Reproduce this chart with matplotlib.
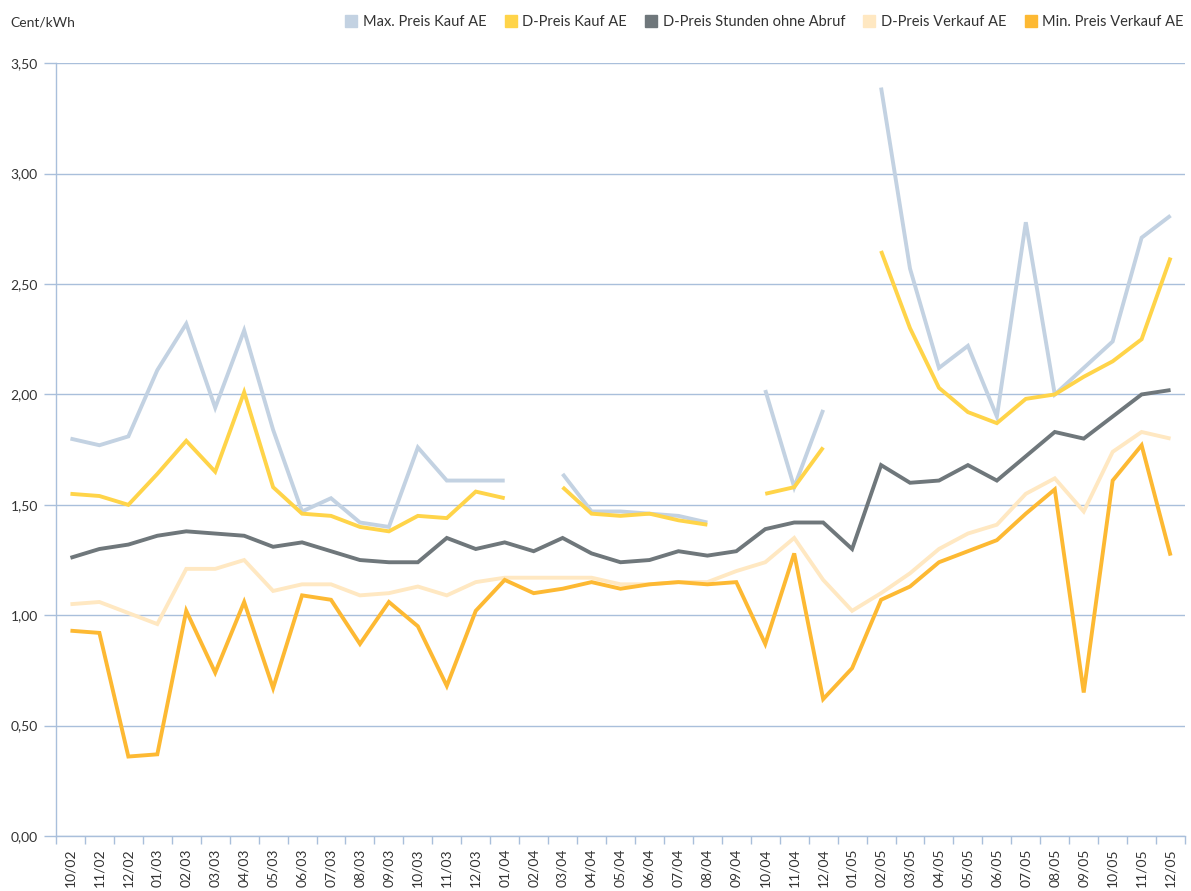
import numpy as np
import matplotlib.pyplot as plt
from matplotlib.lines import Line2D
from matplotlib.ticker import FuncFormatter, FixedLocator

plt.rcParams['font.family'] = ['Lato', 'DejaVu Sans']

months = ['10/02', '11/02', '12/02', '01/03', '02/03', '03/03', '04/03', '05/03', '06/03',
          '07/03', '08/03', '09/03', '10/03', '11/03', '12/03', '01/04', '02/04', '03/04',
          '04/04', '05/04', '06/04', '07/04', '08/04', '09/04', '10/04', '11/04', '12/04',
          '01/05', '02/05', '03/05', '04/05', '05/05', '06/05', '07/05', '08/05', '09/05',
          '10/05', '11/05', '12/05']

nan = np.nan
max_kauf = [1.80, 1.77, 1.81, 2.11, 2.32, 1.94, 2.29, 1.84, 1.47, 1.53, 1.42, 1.40,
            1.76, 1.61, 1.61, 1.61, nan, 1.64, 1.47, 1.47, 1.46, 1.45, 1.42, nan,
            2.02, 1.58, 1.93, nan, 3.39, 2.57, 2.12, 2.22, 1.90, 2.78, 2.00, 2.12,
            2.24, 2.71, 2.81]
d_kauf = [1.55, 1.54, 1.50, 1.64, 1.79, 1.65, 2.01, 1.58, 1.46, 1.45, 1.40, 1.38,
          1.45, 1.44, 1.56, 1.53, nan, 1.58, 1.46, 1.45, 1.46, 1.43, 1.41, nan,
          1.55, 1.58, 1.76, nan, 2.65, 2.30, 2.03, 1.92, 1.87, 1.98, 2.00, 2.08,
          2.15, 2.25, 2.62]
d_ohne_abruf = [1.26, 1.30, 1.32, 1.36, 1.38, 1.37, 1.36, 1.31, 1.33, 1.29, 1.25, 1.24,
                1.24, 1.35, 1.30, 1.33, 1.29, 1.35, 1.28, 1.24, 1.25, 1.29, 1.27, 1.29,
                1.39, 1.42, 1.42, 1.30, 1.68, 1.60, 1.61, 1.68, 1.61, 1.72, 1.83, 1.80,
                1.90, 2.00, 2.02]
d_verkauf = [1.05, 1.06, 1.01, 0.96, 1.21, 1.21, 1.25, 1.11, 1.14, 1.14, 1.09, 1.10,
             1.13, 1.09, 1.15, 1.17, 1.17, 1.17, 1.17, 1.14, 1.14, 1.15, 1.15, 1.20,
             1.24, 1.35, 1.16, 1.02, 1.10, 1.19, 1.30, 1.37, 1.41, 1.55, 1.62, 1.47,
             1.74, 1.83, 1.80]
min_verkauf = [0.93, 0.92, 0.36, 0.37, 1.02, 0.74, 1.06, 0.67, 1.09, 1.07, 0.87, 1.06,
               0.95, 0.68, 1.02, 1.16, 1.10, 1.12, 1.15, 1.12, 1.14, 1.15, 1.14, 1.15,
               0.87, 1.28, 0.62, 0.76, 1.07, 1.13, 1.24, 1.29, 1.34, 1.46, 1.57, 0.65,
               1.61, 1.77, 1.27]

series = [
    ('Max. Preis Kauf AE', max_kauf, '#c3d2e2'),
    ('D-Preis Kauf AE', d_kauf, '#ffd449'),
    ('D-Preis Stunden ohne Abruf', d_ohne_abruf, '#6f777b'),
    ('D-Preis Verkauf AE', d_verkauf, '#ffe8c2'),
    ('Min. Preis Verkauf AE', min_verkauf, '#fdb933'),
]

axis_col = '#a9bfdb'
text_col = '#333333'

fig = plt.figure(figsize=(11.91, 8.91), dpi=100)
ax = fig.add_axes([0.047, 0.0617, 0.948, 0.8673])

x = np.arange(len(months))
for name, vals, col in series:
    ax.plot(x, vals, color=col, lw=2.8, solid_joinstyle='miter', solid_capstyle='butt')

ax.set_xlim(-0.5, len(months) - 0.5)
ax.set_ylim(0, 3.5)
ax.set_yticks(np.arange(0, 3.51, 0.5))
ax.yaxis.set_major_formatter(FuncFormatter(lambda v, p: f'{v:.2f}'.replace('.', ',')))
ax.grid(axis='y', color=axis_col, lw=1)
ax.set_axisbelow(True)

# category boundaries get tick marks, labels sit at the centres
ax.xaxis.set_major_locator(FixedLocator(np.arange(-0.5, len(months), 1)))
ax.xaxis.set_major_formatter(FuncFormatter(lambda v, p: ''))
ax.xaxis.set_minor_locator(FixedLocator(x))
ax.set_xticklabels(months, minor=True, rotation=90, fontsize=10, color=text_col)
ax.tick_params(axis='x', which='major', length=6, color=axis_col, width=1)
ax.tick_params(axis='x', which='minor', length=0, pad=9)
ax.tick_params(axis='y', length=9, color=axis_col, width=1, labelsize=10,
               labelcolor=text_col, pad=4)

for s in ['top', 'right']:
    ax.spines[s].set_visible(False)
for s in ['left', 'bottom']:
    ax.spines[s].set_color(axis_col)
    ax.spines[s].set_linewidth(1)

fig.text(0.009, 0.975, 'Cent/kWh', fontsize=10, color=text_col, va='center', ha='left')

handles = [Line2D([], [], ls='none', marker='s', markersize=9, color=col, label=name)
           for name, vals, col in series]
fig.legend(handles=handles, loc='center right', bbox_to_anchor=(1.0, 0.975), ncol=5,
           frameon=False, fontsize=10.5, handletextpad=0.35, columnspacing=1.2,
           handlelength=0.9, labelcolor=text_col, borderaxespad=0.1)

fig.savefig('out.png', dpi=100)
